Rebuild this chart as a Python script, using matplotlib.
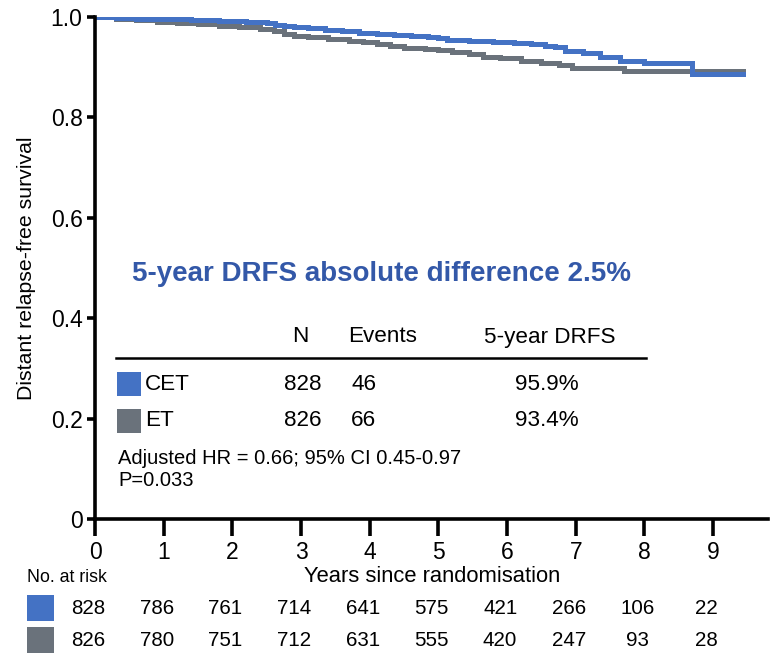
import matplotlib
matplotlib.use("Agg")
import matplotlib.pyplot as plt
from matplotlib.patches import Rectangle
from matplotlib.transforms import blended_transform_factory

plt.rcParams['font.family'] = ['Liberation Sans', 'DejaVu Sans']

# Kaplan-Meier step curves (time in years, survival)
cet_time = [0.0, 0.3, 0.6, 1.0, 1.4, 1.8, 2.2, 2.5, 2.62, 2.75, 2.9, 3.1, 3.35, 3.6, 3.85, 4.1, 4.35, 4.6, 4.85, 5.0,
            5.12, 5.45, 5.8, 6.1, 6.35, 6.55, 6.7, 6.85, 7.1, 7.35, 7.65, 8.0, 8.7, 9.43]
cet_surv = [1.0, 0.998, 0.997, 0.996, 0.994, 0.992, 0.990, 0.988, 0.985, 0.982, 0.980, 0.978, 0.975, 0.972, 0.969, 0.967, 0.964, 0.962, 0.960, 0.959,
            0.955, 0.953, 0.951, 0.948, 0.946, 0.943, 0.940, 0.933, 0.928, 0.921, 0.912, 0.908, 0.887, 0.887]

et_time = [0.0, 0.3, 0.6, 0.9, 1.2, 1.5, 1.8, 2.1, 2.4, 2.6, 2.75, 2.9, 3.1, 3.4, 3.7, 3.9, 4.1, 4.3, 4.5, 4.8, 5.0,
           5.2, 5.45, 5.65, 5.9, 6.2, 6.5, 6.75, 6.95, 7.7, 8.5, 9.43]
et_surv = [1.0, 0.997, 0.994, 0.991, 0.989, 0.986, 0.983, 0.980, 0.976, 0.972, 0.967, 0.963, 0.960, 0.957, 0.953, 0.950, 0.946, 0.942, 0.938, 0.936, 0.934,
           0.930, 0.926, 0.921, 0.918, 0.912, 0.908, 0.904, 0.899, 0.893, 0.893, 0.893]

groups = ["CET", "ET"]
group_n = [828, 826]
group_events = [46, 66]
group_drfs5 = ["95.9%", "93.4%"]
colors = ["#4472C4", "#6A727B"]

risk_years = [0, 1, 2, 3, 4, 5, 6, 7, 8, 9]
risk_cet = [828, 786, 761, 714, 641, 575, 421, 266, 106, 22]
risk_et = [826, 780, 751, 712, 631, 555, 420, 247, 93, 28]

W, H = 770, 654
fig = plt.figure(figsize=(W / 100, H / 100), dpi=100)


def fx(px):
    return px / W


def fy(py):
    return 1 - py / H


ax = fig.add_axes([fx(95), fy(519), fx(768) - fx(95), fy(17) - fy(519)])
ax.set_xlim(0, 9.8)
ax.set_ylim(0, 1.0)

ax.step(et_time, et_surv, where="post", color=colors[1], lw=3.6, solid_joinstyle="miter")
ax.step(cet_time, cet_surv, where="post", color=colors[0], lw=3.6, solid_joinstyle="miter")

for s in ["top", "right"]:
    ax.spines[s].set_visible(False)
for s in ["left", "bottom"]:
    ax.spines[s].set_linewidth(2.6)
    ax.spines[s].set_color("black")

ax.set_xticks(risk_years)
ax.set_yticks([0, 0.2, 0.4, 0.6, 0.8, 1.0])
ax.set_yticklabels(["0", "0.2", "0.4", "0.6", "0.8", "1.0"])
ax.tick_params(axis="x", length=12.5, width=2.6, labelsize=16.5, pad=3)
ax.tick_params(axis="y", length=6, width=2.6, labelsize=16.5, pad=3)
ax.set_ylabel("Distant relapse-free survival", fontsize=15.3, labelpad=10.3)

# x-axis label placed between tick labels and risk table
fig.text(fx(432), fy(577), "Years since randomisation", fontsize=15.8, ha="center", va="center")

# Summary text inside the plot
fig.text(fx(381), fy(274), "5-year DRFS absolute difference 2.5%", fontsize=20, fontweight="bold",
         color="#3358A8", ha="center", va="center")

tsize = 16.2
fig.text(fx(300), fy(337), "N", fontsize=tsize, ha="center", va="center")
fig.text(fx(383), fy(337), "Events", fontsize=tsize, ha="center", va="center")
fig.text(fx(550), fy(337), "5-year DRFS", fontsize=tsize, ha="center", va="center")
fig.add_artist(plt.Line2D([fx(116), fx(646)], [fy(358), fy(358)], color="black", lw=1.8))

row_y = [384, 421]
for i in range(2):
    y = row_y[i]
    fig.add_artist(Rectangle((fx(117), fy(y + 12)), fx(141) - fx(117), fy(y - 12) - fy(y + 12),
                             transform=fig.transFigure, color=colors[i], lw=0))
    fig.text(fx(145), fy(y), groups[i], fontsize=tsize, ha="left", va="center")
    fig.text(fx(303), fy(y), str(group_n[i]), fontsize=tsize, ha="center", va="center")
    fig.text(fx(364), fy(y), str(group_events[i]), fontsize=tsize, ha="center", va="center")
    fig.text(fx(547), fy(y), group_drfs5[i], fontsize=tsize, ha="center", va="center")

fig.text(fx(118), fy(458), "Adjusted HR = 0.66; 95% CI 0.45-0.97", fontsize=14.5, ha="left", va="center")
fig.text(fx(118), fy(481), "P=0.033", fontsize=14.5, ha="left", va="center")

# Number at risk table
fig.text(fx(27), fy(578), "No. at risk", fontsize=12.8, ha="left", va="center")
trans = blended_transform_factory(ax.transData, fig.transFigure)
risk_rows = [risk_cet, risk_et]
risk_y = [608, 640]
for i in range(2):
    y = risk_y[i]
    fig.add_artist(Rectangle((fx(27), fy(y + 13)), fx(54) - fx(27), fy(y - 13) - fy(y + 13),
                             transform=fig.transFigure, color=colors[i], lw=0))
    for yr, n in zip(risk_years, risk_rows[i]):
        ax.text(yr - 0.1, fy(y), str(n), transform=trans, fontsize=14.8,
                ha="center", va="center", clip_on=False)

fig.savefig("out.png", dpi=100)
